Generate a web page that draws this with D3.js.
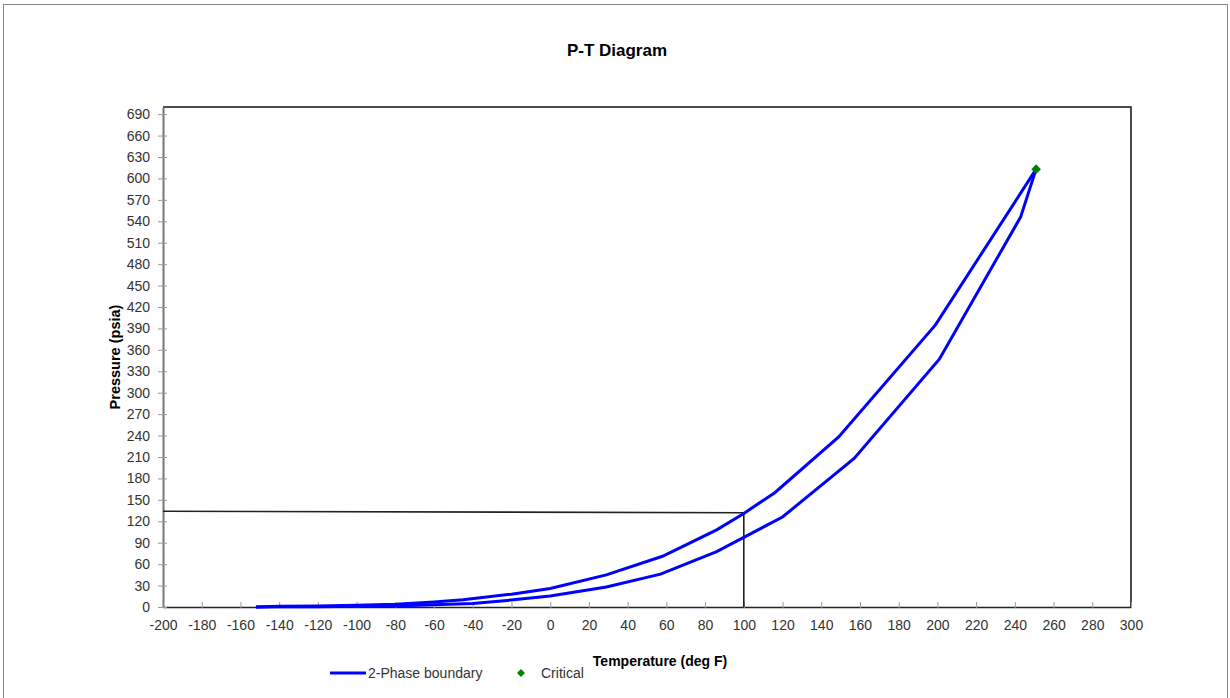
<!DOCTYPE html>
<html>
<head>
<meta charset="utf-8">
<script src="https://cdn.jsdelivr.net/npm/d3@7"></script>
<style>
  body { margin: 0; background: #fff; }
  svg { display: block; font-family: "Liberation Sans", Arial, sans-serif; }
</style>
</head>
<body>
<svg id="chart" width="1230" height="698"></svg>
<script>
// bubble side (upper branch)
let bubbleT = [-152, -140, -120, -100, -80, -60, -45, -20, 0, 29, 58, 86, 100, 116, 149, 199, 251];
let bubbleP = [0, 1, 1.5, 2.5, 4, 7, 10, 18, 26, 45, 71, 108, 131, 160, 238, 395, 613];
// dew side (lower branch)
let dewT = [-152, -140, -120, -100, -80, -60, -40, -19, 0, 29, 57, 86, 120, 157, 201, 243, 251];
let dewP = [0, 0.2, 0.5, 1, 1.5, 3, 5, 10, 15.5, 28, 46, 77.5, 126, 208, 347, 546, 613];
let criticalT = [251];
let criticalP = [613];
// operating point guide lines
let guideT = [-200, 100, 100];
let guideP = [134, 132, 0];

let xTicks = d3.range(-200, 301, 20);
let yTicks = d3.range(0, 691, 30);

let width = 1230, height = 698;
let margin = ({ top: 107, right: 99, bottom: 91, left: 163 });

let x = d3.scaleLinear().domain([-200, 300]).range([margin.left, width - margin.right]);
let y = d3.scaleLinear().domain([0, 700]).range([height - margin.bottom, margin.top]);

let svg = d3.select("#chart");

// outer frame
svg.append("rect").attr("x", 3.5).attr("y", 4.5).attr("width", 1224).attr("height", 700)
  .attr("fill", "none").attr("stroke", "#888").attr("stroke-width", 1);

svg.append("text").attr("x", 617).attr("y", 56).attr("text-anchor", "middle")
  .attr("font-size", 17).attr("font-weight", "bold").text("P-T Diagram");

// plot border (top + right)
svg.append("path")
  .attr("d", `M${x(-200)},${y(700)}H${x(300)}V${y(0)}`)
  .attr("fill", "none").attr("stroke", "#111").attr("stroke-width", 1.5);

let fmt = d => String(d);
let xAxis = g => g.attr("transform", `translate(0,${y(0)})`)
  .call(d3.axisBottom(x).tickValues(xTicks).tickFormat(fmt).tickSize(0).tickPadding(13));
let yAxis = g => g.attr("transform", `translate(${x(-200)},0)`)
  .call(d3.axisLeft(y).tickValues(yTicks).tickFormat(fmt).tickSize(0).tickPadding(13));

let gx = svg.append("g").call(xAxis);
gx.select(".domain").attr("stroke", "#222").attr("stroke-width", 1.5);
gx.selectAll(".tick").append("line").attr("y1", -5).attr("y2", 1).attr("stroke", "#999");
gx.selectAll("text").attr("font-size", 14).attr("fill", "#333").attr("font-family", "Liberation Sans, Arial, sans-serif");

let gy = svg.append("g").call(yAxis);
gy.select(".domain").attr("stroke", "#777").attr("stroke-width", 2);
gy.selectAll(".tick").append("line").attr("x1", -5).attr("x2", 4).attr("stroke", "#999");
gy.selectAll("text").attr("font-size", 14).attr("fill", "#333").attr("font-family", "Liberation Sans, Arial, sans-serif");

svg.append("text").attr("x", 660).attr("y", 666).attr("text-anchor", "middle")
  .attr("font-size", 14).attr("font-weight", "bold").text("Temperature (deg F)");
svg.append("text").attr("transform", `translate(120,${(y(0) + y(700)) / 2}) rotate(-90)`)
  .attr("text-anchor", "middle").attr("font-size", 14.5).attr("font-weight", "bold").text("Pressure (psia)");

let line = d3.line().x(d => x(d[0])).y(d => y(d[1]));

svg.append("path").datum(guideT.map((t, i) => [t, guideP[i]]))
  .attr("d", line).attr("fill", "none").attr("stroke", "#222").attr("stroke-width", 1.6);

svg.append("path").datum(bubbleT.map((t, i) => [t, bubbleP[i]]))
  .attr("d", line).attr("fill", "none").attr("stroke", "#0000ff").attr("stroke-width", 3);
svg.append("path").datum(dewT.map((t, i) => [t, dewP[i]]))
  .attr("d", line).attr("fill", "none").attr("stroke", "#0000ff").attr("stroke-width", 3);

let diamond = d3.symbol().type(d3.symbolDiamond2).size(60);
svg.selectAll(".crit").data(criticalT).join("path")
  .attr("transform", (d, i) => `translate(${x(d)},${y(criticalP[i])})`)
  .attr("d", diamond).attr("fill", "#008000");

// legend
let lg = svg.append("g");
lg.append("line").attr("x1", 330).attr("x2", 366).attr("y1", 673).attr("y2", 673)
  .attr("stroke", "#0000ff").attr("stroke-width", 3);
lg.append("text").attr("x", 368).attr("y", 678).attr("font-size", 14).attr("fill", "#333").text("2-Phase boundary");
lg.append("path").attr("transform", "translate(521,673)").attr("d", d3.symbol().type(d3.symbolDiamond2).size(40))
  .attr("fill", "#008000");
lg.append("text").attr("x", 541).attr("y", 678).attr("font-size", 14).attr("fill", "#333").text("Critical");
</script>
</body>
</html>
